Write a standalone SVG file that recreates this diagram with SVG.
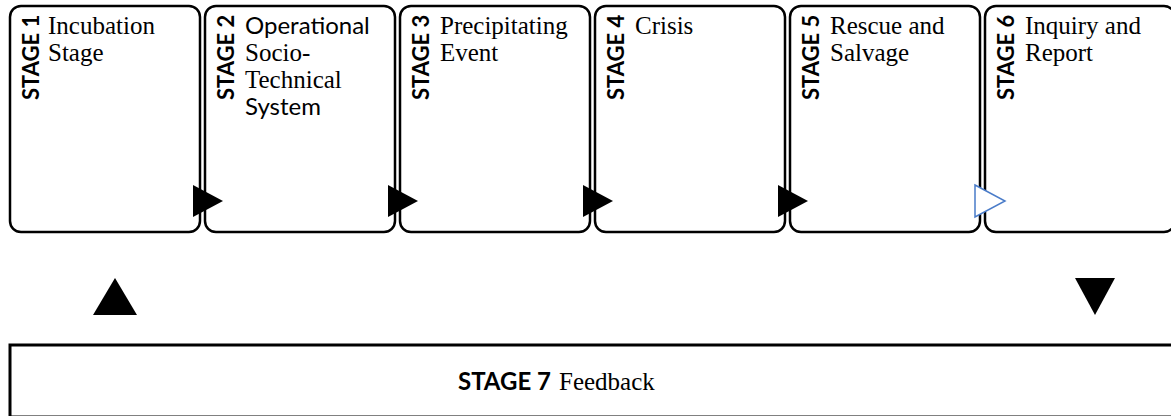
<svg xmlns="http://www.w3.org/2000/svg" width="1171" height="416" viewBox="0 0 1171 416">
  <style>
    .box { fill: #ffffff; stroke: #000000; stroke-width: 2.5; }
    .tag { font-family: "Lato", "Open Sans", sans-serif; font-weight: bold; font-size: 22px; fill: #000000; }
    .ser { font-family: "Liberation Serif", "Times New Roman", serif; font-size: 25px; fill: #000000; }
    .san { font-family: "Lato", "Open Sans", sans-serif; font-size: 24px; fill: #000000; }
    .head { fill: #000000; }
    .open { fill: #ffffff; stroke: #4a7cc9; stroke-width: 1.5; }
  </style>

  <!-- stage boxes: 190 wide, 195 pitch -->
  <g id="stage1">
    <rect class="box" x="10" y="6" width="190" height="226" rx="11"/>
    <text class="tag" transform="translate(39,100) rotate(-90)">STAGE 1</text>
    <text class="ser" x="48" y="34">Incubation</text>
    <text class="ser" x="48" y="61">Stage</text>
  </g>
  <g id="stage2">
    <rect class="box" x="205" y="6" width="190" height="226" rx="11"/>
    <text class="tag" transform="translate(234,100) rotate(-90)">STAGE 2</text>
    <text class="san" x="245" y="34">Operational</text>
    <text class="ser" x="245" y="61">Socio-</text>
    <text class="ser" x="245" y="88">Technical</text>
    <text class="san" x="245" y="115">System</text>
  </g>
  <g id="stage3">
    <rect class="box" x="400" y="6" width="190" height="226" rx="11"/>
    <text class="tag" transform="translate(429,100) rotate(-90)">STAGE 3</text>
    <text class="ser" x="440" y="34">Precipitating</text>
    <text class="ser" x="440" y="61">Event</text>
  </g>
  <g id="stage4">
    <rect class="box" x="595" y="6" width="190" height="226" rx="11"/>
    <text class="tag" transform="translate(624,100) rotate(-90)">STAGE 4</text>
    <text class="ser" x="635" y="34">Crisis</text>
  </g>
  <g id="stage5">
    <rect class="box" x="790" y="6" width="190" height="226" rx="11"/>
    <text class="tag" transform="translate(819,100) rotate(-90)">STAGE 5</text>
    <text class="ser" x="830" y="34">Rescue and</text>
    <text class="ser" x="830" y="61">Salvage</text>
  </g>
  <g id="stage6">
    <rect class="box" x="985" y="6" width="190" height="226" rx="11"/>
    <text class="tag" transform="translate(1014,100) rotate(-90)">STAGE 6</text>
    <text class="ser" x="1025" y="34">Inquiry and</text>
    <text class="ser" x="1025" y="61">Report</text>
  </g>
  <g id="stage7">
    <rect class="box" x="10" y="345" width="1175" height="72" rx="0" style="stroke-width:3"/>
    <text x="458" y="390"><tspan class="tag" style="font-size:24px">STAGE 7</tspan><tspan class="ser" dx="8">Feedback</tspan></text>
  </g>

  <!-- flow heads between stages and the feedback loop -->
  <g id="connectors">
    <polygon class="head" points="193,185 223,201 193,217"/>
    <polygon class="head" points="388,185 418,201 388,217"/>
    <polygon class="head" points="583,185 613,201 583,217"/>
    <polygon class="head" points="778,185 808,201 778,217"/>
    <polygon class="open" points="975,185 1005,201 975,217"/>
    <polygon class="head" points="93,315 115,278 137,315"/>
    <polygon class="head" points="1075,278 1115,278 1095,315"/>
  </g>
</svg>
